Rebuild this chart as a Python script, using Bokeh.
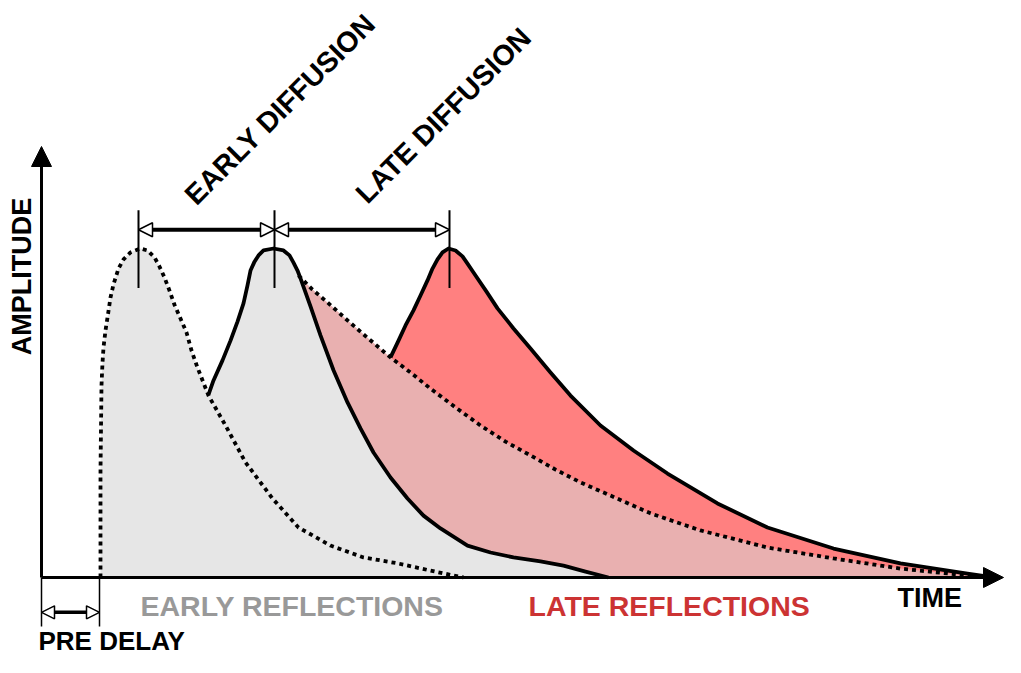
from math import pi
from bokeh.plotting import figure
from bokeh.models import Range1d, Arrow, NormalHead
from bokeh.core.properties import value
from bokeh.embed import file_html
from bokeh.resources import INLINE

# Time in ms, amplitude in % of peak
early_ref_t = [59, 59, 60, 61, 62, 64, 66, 69, 72, 77, 82, 89, 99, 106, 113, 118, 123, 128,
               133, 139, 145, 150, 156, 167, 184, 204, 231, 257, 289, 322, 356, 389, 412, 422]
early_ref_a = [0, 32.5, 58.4, 65.3, 69.9, 75.1, 79.0, 85.1, 89.1, 93.9, 96.7, 98.8, 100, 99.4,
               97.3, 94.5, 91.2, 87.2, 82.9, 78.7, 74.5, 69.0, 63.8, 55.3, 46.2, 35.0, 24.0,
               15.2, 9.7, 6.1, 4.3, 2.1, 0.6, 0]

early_dif_t = [167, 172, 181, 189, 196, 202, 206, 209, 213, 217, 222, 232, 242, 248, 252, 256,
               259, 269, 279, 292, 306, 319, 332, 349, 366, 382, 399, 426, 449, 472, 499, 522,
               544, 567]
early_dif_a = [55.6, 59.9, 66.0, 72.0, 77.8, 83.3, 88.8, 93.3, 96.0, 97.9, 99.4, 100, 99.4,
               97.9, 95.7, 93.3, 90.9, 82.4, 73.6, 63.0, 53.2, 45.3, 38.0, 30.4, 24.0, 18.8,
               14.9, 9.7, 7.6, 6.1, 4.9, 3.6, 1.8, 0]

late_ref_t = [257, 271, 286, 304, 322, 349, 369, 389, 414, 439, 464, 489, 514, 539, 569, 609,
              659, 726, 792, 859, 926, 952]
late_ref_a = [91.8, 87.5, 83.6, 78.7, 73.9, 66.9, 62.3, 57.4, 51.7, 46.2, 41.3, 37.1, 32.8,
              28.9, 24.9, 19.5, 14.3, 9.1, 5.8, 2.7, 0.6, 0]

late_dif_t = [349, 357, 364, 372, 379, 386, 391, 396, 401, 407, 414, 421, 426, 432, 445, 456,
              472, 489, 509, 529, 559, 592, 626, 676, 726, 792, 859, 926, 952]
late_dif_a = [66.9, 72.0, 76.6, 81.2, 85.7, 90.3, 93.9, 96.7, 98.8, 100, 99.4, 97.6, 95.4,
              92.7, 86.9, 81.8, 75.7, 69.6, 62.3, 55.3, 46.2, 38.6, 31.6, 22.5, 15.2, 8.8,
              4.3, 1.2, 0]

diffusion_marks_t = [97, 233, 408]
pre_delay_t = 58
time_axis_end = 962
amp_axis_end = 131

labels = {
    "amp": "AMPLITUDE",
    "time": "TIME",
    "early_dif": "EARLY DIFFUSION",
    "late_dif": "LATE DIFFUSION",
    "early_ref": "EARLY REFLECTIONS",
    "late_ref": "LATE REFLECTIONS",
    "pre": "PRE DELAY",
}

FONT = value("Liberation Sans")

p = figure(width=1005, height=657, x_range=Range1d(-41, 964), y_range=Range1d(-24.32, 175.38),
           output_backend="svg", toolbar_location=None, x_axis_type=None, y_axis_type=None,
           min_border=0)
p.outline_line_color = None
p.background_fill_color = "white"

# fills
p.varea(x=late_dif_t, y1=0, y2=late_dif_a, fill_color="#ff8080")
p.varea(x=late_ref_t, y1=0, y2=late_ref_a, fill_color="#e9b0b0")
p.varea(x=early_ref_t, y1=0, y2=early_ref_a, fill_color="#e6e6e6")
p.varea(x=early_dif_t, y1=0, y2=early_dif_a, fill_color="#e6e6e6")

# outlines
p.line(early_ref_t, early_ref_a, line_color="black", line_width=3.8, line_dash="4 4")
p.line(late_ref_t, late_ref_a, line_color="black", line_width=3.8, line_dash="4 4")
p.line(early_dif_t, early_dif_a, line_color="black", line_width=3.8, line_join="round")
p.line(late_dif_t, late_dif_a, line_color="black", line_width=3.8, line_join="round")

# axes
p.add_layout(Arrow(x_start=0, y_start=0, x_end=time_axis_end, y_end=0, line_width=3,
                   end=NormalHead(size=20, fill_color="black", line_color="black")))
p.add_layout(Arrow(x_start=0, y_start=0, x_end=0, y_end=amp_axis_end, line_width=3,
                   end=NormalHead(size=20, fill_color="black", line_color="black")))

# diffusion markers and dimension arrows
dim_y = 105.7
p.segment(x0=diffusion_marks_t, y0=[88] * 3, x1=diffusion_marks_t, y1=[111.6] * 3,
          line_color="black", line_width=2)
for a, b in zip(diffusion_marks_t[:-1], diffusion_marks_t[1:]):
    p.add_layout(Arrow(x_start=a, y_start=dim_y, x_end=b, y_end=dim_y, line_width=4,
                       start=NormalHead(size=14, fill_color="white", line_color="black", line_width=1.5),
                       end=NormalHead(size=14, fill_color="white", line_color="black", line_width=1.5)))

# pre delay
p.segment(x0=[0, pre_delay_t], y0=[0, 0], x1=[0, pre_delay_t], y1=[-14.9, -14.9],
          line_color="black", line_width=1.5)
p.add_layout(Arrow(x_start=0, y_start=-10.6, x_end=pre_delay_t, y_end=-10.6, line_width=3.5,
                   start=NormalHead(size=13, fill_color="white", line_color="black", line_width=1.5),
                   end=NormalHead(size=13, fill_color="white", line_color="black", line_width=1.5)))

# labels
common = dict(text_font=FONT, text_font_style="bold")
p.text(x=[-20], y=[91.5], text=[labels["amp"]], angle=pi / 2, text_align="center",
       text_baseline="middle", text_font_size="27px", text_color="black", **common)
p.text(x=[148], y=[114.9], text=[labels["early_dif"]], angle=pi / 4, text_align="left",
       text_baseline="alphabetic", text_font_size="28.5px", text_color="black", **common)
p.text(x=[319], y=[115.4], text=[labels["late_dif"]], angle=pi / 4, text_align="left",
       text_baseline="alphabetic", text_font_size="28.5px", text_color="black", **common)
p.text(x=[99], y=[-8.8], text=[labels["early_ref"]], text_align="left",
       text_baseline="alphabetic", text_font_size="28.5px", text_color="#999999", **common)
p.text(x=[487], y=[-8.8], text=[labels["late_ref"]], text_align="left",
       text_baseline="alphabetic", text_font_size="28.5px", text_color="#cc3333", **common)
p.text(x=[856], y=[-6.1], text=[labels["time"]], text_align="left",
       text_baseline="alphabetic", text_font_size="27px", text_color="black", **common)
p.text(x=[-3], y=[-19.4], text=[labels["pre"]], text_align="left",
       text_baseline="alphabetic", text_font_size="26px", text_color="black", **common)

open("out.html", "w").write(file_html(p, INLINE))
